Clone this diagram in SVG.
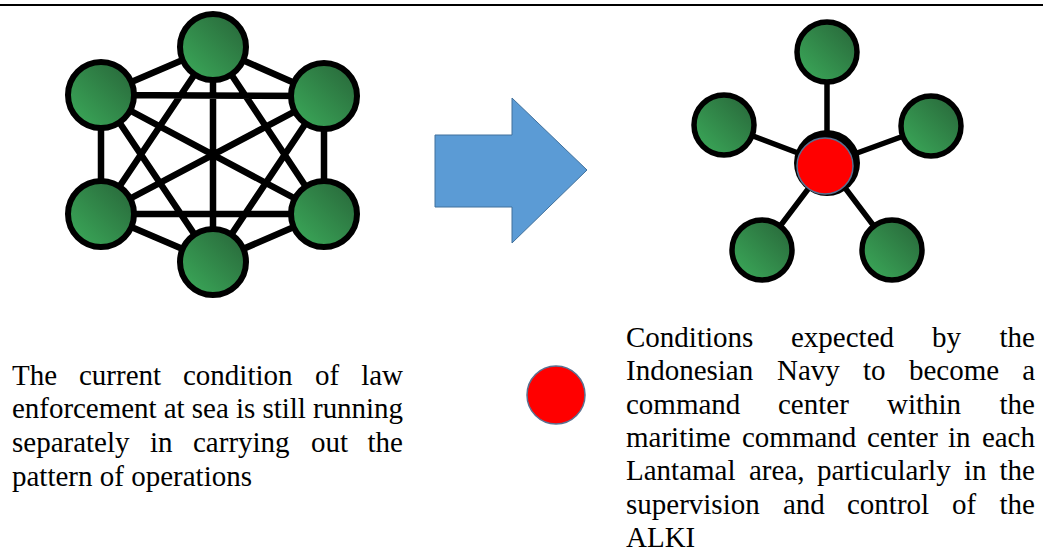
<svg xmlns="http://www.w3.org/2000/svg" width="1043" height="555" viewBox="0 0 1043 555">
<defs>
<linearGradient id="g" x1="1" y1="0" x2="0" y2="1">
<stop offset="0" stop-color="#276338"/>
<stop offset="1" stop-color="#3cad5b"/>
</linearGradient>
<style>
.n{fill:url(#g);stroke:#000;stroke-width:6}
.s{fill:url(#g);stroke:#000;stroke-width:5.5}
.e{stroke:#000;stroke-width:6.5;fill:none}
.e2{stroke:#000;stroke-width:5.5;fill:none}
text{font-family:"Liberation Serif","Times New Roman",serif;font-size:29px;fill:#000}
</style>
</defs>
<rect width="1043" height="555" fill="#fff"/>
<line x1="0" y1="5" x2="1043" y2="5" stroke="#000" stroke-width="2"/>

<g id="mesh-connectors">
<path class="e" d="M213,47L101,95M213,47L324,96M213,47L101,214M213,47L324,214M213,47L213,262M101,95L324,96M101,95L101,214M101,95L324,214M101,95L213,262M324,96L101,214M324,96L324,214M324,96L213,262M101,214L324,214M101,214L213,262M324,214L213,262"/>
</g>
<g id="mesh-top"><circle class="n" cx="213" cy="47" r="33"/></g>
<g id="mesh-ul"><circle class="n" cx="101" cy="95" r="33"/></g>
<g id="mesh-ur"><circle class="n" cx="324" cy="96" r="33"/></g>
<g id="mesh-ll"><circle class="n" cx="101" cy="214" r="33"/></g>
<g id="mesh-lr"><circle class="n" cx="324" cy="214" r="33"/></g>
<g id="mesh-bottom"><circle class="n" cx="213" cy="262" r="33"/></g>

<g id="arrow"><polygon points="435,135 512,135 512,98 587,170 512,243 512,207 435,207" fill="#5b9bd5" stroke="#41719c" stroke-width="1"/></g>

<g id="star-connectors">
<path class="e2" d="M827,52L827,164M724,125L827,164M931,126L827,164M762,250L827,164M892,250L827,164"/>
</g>
<g id="star-top"><circle class="s" cx="827" cy="52" r="30"/></g>
<g id="star-left"><circle class="s" cx="724" cy="125" r="30"/></g>
<g id="star-right"><circle class="s" cx="931" cy="126" r="30"/></g>
<g id="star-bl"><circle class="s" cx="762" cy="250" r="30"/></g>
<g id="star-br"><circle class="s" cx="892" cy="250" r="30"/></g>
<g id="star-center">
<circle cx="827" cy="163" r="33" fill="#000"/>
<circle cx="825" cy="166" r="28" fill="#ff0000" stroke="#5a7090" stroke-width="1.5"/>
</g>

<g id="left-text">
<text x="12" y="385">The</text><text x="79" y="385">current</text><text x="183" y="385">condition</text><text x="315" y="385">of</text><text x="403" y="385" text-anchor="end">law</text>
<text x="12" y="418" textLength="391" lengthAdjust="spacing">enforcement at sea is still running</text>
<text x="12" y="452">separately</text><text x="150" y="452">in</text><text x="193" y="452">carrying</text><text x="311" y="452">out</text><text x="403" y="452" text-anchor="end">the</text>
<text x="12" y="486">pattern of operations</text>
</g>

<g id="legend-red"><circle cx="556" cy="395" r="29" fill="#ff0000" stroke="#5a7090" stroke-width="1.5"/></g>

<g id="right-text">
<text x="626" y="347">Conditions</text><text x="791" y="347">expected</text><text x="932" y="347">by</text><text x="1035" y="347" text-anchor="end">the</text>
<text x="626" y="380">Indonesian</text><text x="777" y="380">Navy</text><text x="863" y="380">to</text><text x="909" y="380">become</text><text x="1035" y="380" text-anchor="end">a</text>
<text x="626" y="414">command</text><text x="778" y="414">center</text><text x="887" y="414">within</text><text x="1035" y="414" text-anchor="end">the</text>
<text x="626" y="447">maritime</text><text x="742" y="447">command</text><text x="867" y="447">center</text><text x="948" y="447">in</text><text x="1035" y="447" text-anchor="end">each</text>
<text x="626" y="480">Lantamal</text><text x="749" y="480">area,</text><text x="817" y="480">particularly</text><text x="964" y="480">in</text><text x="1035" y="480" text-anchor="end">the</text>
<text x="626" y="514">supervision</text><text x="783" y="514">and</text><text x="847" y="514">control</text><text x="952" y="514">of</text><text x="1035" y="514" text-anchor="end">the</text>
<text x="626" y="547">ALKI</text>
</g>
</svg>
